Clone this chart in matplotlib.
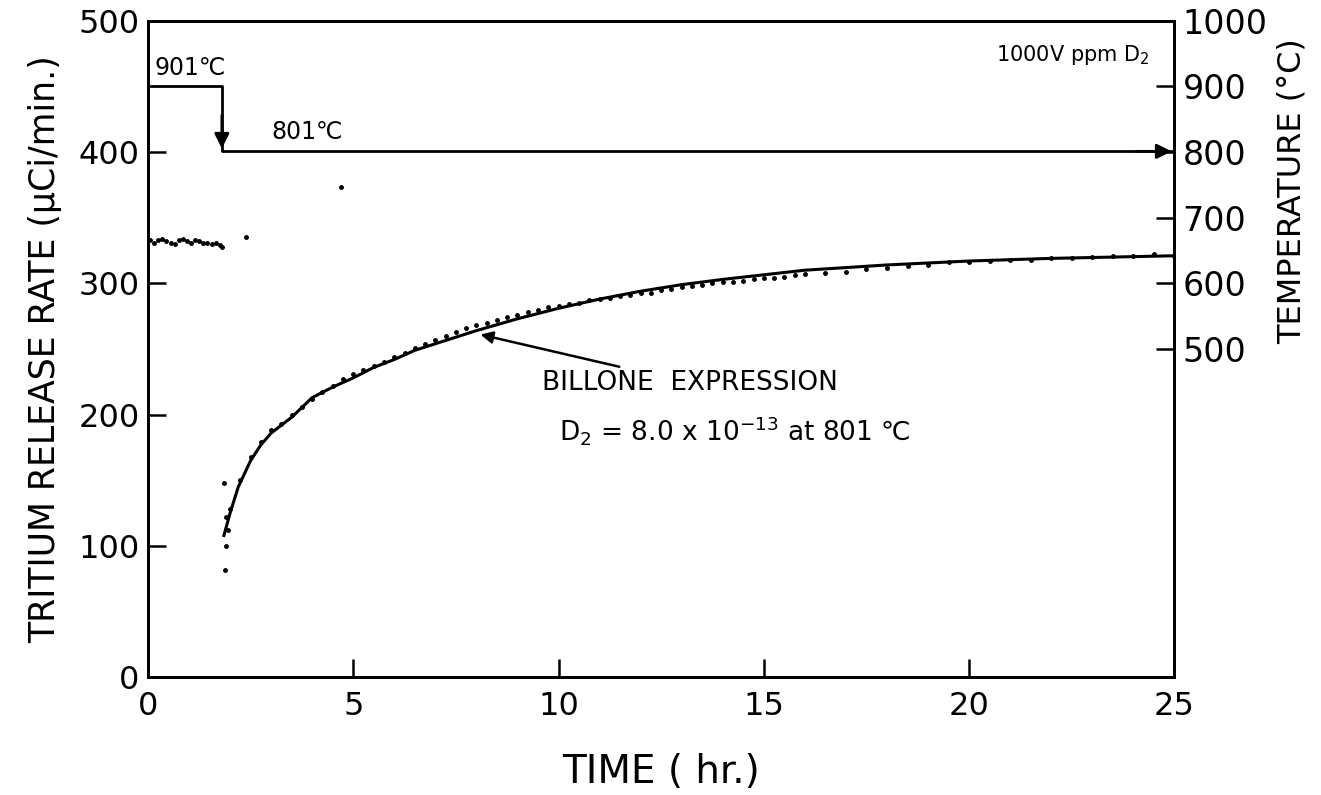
import matplotlib
matplotlib.use("Agg")
import matplotlib.pyplot as plt

plt.rcParams['font.family'] = ['Liberation Sans Narrow', 'DejaVu Sans']
plt.rcParams['mathtext.default'] = 'regular'

# --- data ---
temp_t = [0.0, 1.8, 1.8, 25.0]
temp_v = [901, 901, 801, 801]

pre_t = [0.05, 0.15, 0.25, 0.35, 0.45, 0.55, 0.65, 0.75, 0.85, 0.95, 1.05, 1.15, 1.25, 1.35, 1.45, 1.55, 1.65, 1.75, 1.8]
pre_v = [333, 331, 333, 334, 332, 331, 330, 333, 334, 332, 331, 333, 332, 331, 331, 330, 331, 329, 328]

drop_t = [1.85, 1.87, 1.9, 1.9, 1.95]
drop_v = [148, 82, 100, 122, 112]

obs_t = [2.0, 2.25, 2.5, 2.75, 3.0, 3.25, 3.5, 3.75, 4.0, 4.25, 4.5, 4.75, 5.0,
         5.25, 5.5, 5.75, 6.0, 6.25, 6.5, 6.75, 7.0, 7.25, 7.5, 7.75, 8.0, 8.25, 8.5, 8.75, 9.0,
         9.25, 9.5, 9.75, 10.0, 10.25, 10.5, 10.75, 11.0, 11.25, 11.5, 11.75, 12.0, 12.25, 12.5,
         12.75, 13.0, 13.25, 13.5, 13.75, 14.0, 14.25, 14.5, 14.75, 15.0, 15.25, 15.5, 15.75,
         16.0, 16.5, 17.0, 17.5, 18.0, 18.5, 19.0, 19.5, 20.0, 20.5, 21.0, 21.5, 22.0, 22.5,
         23.0, 23.5, 24.0, 24.5, 25.0]
obs_v = [128, 150, 168, 179, 188, 193, 200, 206, 212, 217, 222, 227, 231,
         234, 237, 240, 244, 247, 251, 254, 257, 260, 263, 266, 268, 270, 272, 274, 276,
         278, 280, 282, 283, 284, 285, 287, 288, 289, 290, 291, 293, 293, 295,
         296, 297, 298, 299, 300, 301, 301, 302, 303, 304, 304, 305, 306,
         307, 308, 309, 311, 312, 313, 314, 316, 316, 317, 318, 318, 319, 319,
         320, 321, 321, 322, 321]

stray_t = [2.4, 4.7]
stray_v = [335, 373]

fit_t = [1.85, 2.0, 2.2, 2.5, 2.75, 3.0, 3.5, 4.0, 4.5, 5.0, 5.5, 6.0, 6.5, 7.0, 7.5, 8.0, 9.0, 10.0,
         11.0, 12.0, 13.0, 14.0, 16.0, 18.0, 20.0, 22.0, 25.0]
fit_v = [108, 125, 145, 165, 177, 186, 198, 213, 221, 228, 236, 242, 249, 254, 259, 264, 273, 281,
         288, 294, 299, 303, 310, 314, 317, 319, 321]

x_ticks = [0, 5, 10, 15, 20, 25]
y_ticks = [0, 100, 200, 300, 400, 500]
t_ticks = [500, 600, 700, 800, 900, 1000]

# --- figure ---
fig = plt.figure(figsize=(13.21, 7.95), dpi=100)
ax = fig.add_axes([0.112, 0.148, 0.777, 0.826])
ax2 = ax.twinx()

ax.set_xlim(0, 25)
ax.set_ylim(0, 500)
ax2.set_ylim(0, 1000)

ax.plot(pre_t, pre_v, ls='none', marker='o', ms=2.5, color='black')
ax.plot(drop_t, drop_v, ls='none', marker='o', ms=2.5, color='black')
ax.plot(obs_t, obs_v, ls='none', marker='o', ms=2.5, color='black')
ax.plot(stray_t, stray_v, ls='none', marker='o', ms=2.5, color='black')
ax.plot(fit_t, fit_v, color='black', lw=2.2)

ax2.plot(temp_t, temp_v, color='black', lw=2.0)
ax2.annotate('', xy=(1.8, 801), xytext=(1.8, 860),
             arrowprops=dict(arrowstyle='-|>', color='black', lw=2.0, mutation_scale=22))
ax2.annotate('', xy=(25.0, 801), xytext=(24.0, 801),
             arrowprops=dict(arrowstyle='-|>', color='black', lw=2.0, mutation_scale=22))

for a in (ax, ax2):
    for s in a.spines.values():
        s.set_linewidth(2.0)

ax.set_xticks(x_ticks)
ax.set_yticks(y_ticks)
ax.tick_params(axis='both', direction='in', length=13, width=1.8, labelsize=23)
ax.tick_params(axis='x', pad=10)
ax.tick_params(axis='y', pad=6)
ax2.set_yticks(t_ticks)
ax2.tick_params(axis='y', direction='in', length=13, width=1.8, labelsize=24, pad=6)

ax.set_xlabel('TIME ( hr.)', fontsize=28, labelpad=22)
ax.set_ylabel('TRITIUM RELEASE RATE (\u03bcCi/min.)', fontsize=25, labelpad=12)
ax2.set_ylabel('TEMPERATURE (\u00b0C)', fontsize=23, labelpad=6)
ax2.yaxis.set_label_coords(1.1, 0.74)

ax2.text(0.17, 910, '901\u2103', fontsize=17, ha='left', va='bottom')
ax2.text(3.0, 812, '801\u2103', fontsize=17, ha='left', va='bottom')
ax2.text(24.4, 948, '1000V ppm D$_2$', fontsize=15, ha='right', va='center')

ax.annotate('BILLONE  EXPRESSION', xy=(8.1, 261), xytext=(9.6, 224),
            fontsize=19, ha='left', va='center',
            arrowprops=dict(arrowstyle='-|>', color='black', lw=1.8, mutation_scale=18,
                            shrinkA=2, shrinkB=0))
ax.text(10.0, 188, 'D$_2$ = 8.0 x 10$^{-13}$ at 801 \u2103', fontsize=19, ha='left', va='center')

fig.savefig('out.png', dpi=100, facecolor='white')
